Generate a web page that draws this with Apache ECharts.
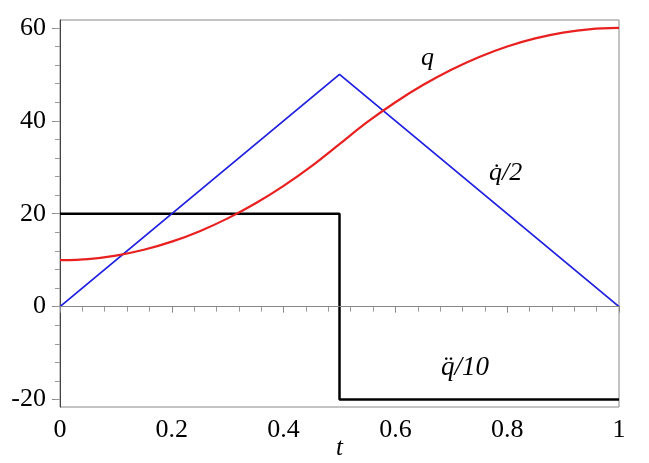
<!DOCTYPE html>
<html><head><meta charset="utf-8">
<script src="https://cdn.jsdelivr.net/npm/echarts@6/dist/echarts.min.js"></script>
<style>html,body{margin:0;padding:0;background:#fff}#c{width:649px;height:463px}</style>
</head><body><div id="c"></div>
<script>
// t grid for q
const tQ = [0,0.05,0.1,0.15,0.2,0.25,0.3,0.35,0.4,0.45,0.5,0.55,0.6,0.65,0.7,0.75,0.8,0.85,0.9,0.95,1];
const qVals = [10,10.25,11,12.25,14,16.25,19,22.25,26,30.25,35,39.75,44,47.75,51,53.75,56,57.75,59,59.75,60];
// q-dot / 2
const tQd = [0,0.5,1];
const qdVals = [0,50,0];
// q-double-dot / 10
const tQdd = [0,0.5,0.5,1];
const qddVals = [20,20,-20,-20];
const yTickLabels = [-20,0,20,40,60];
const yMinorTicks = [-20,-16,-12,-8,-4,0,4,8,12,16,20,24,28,32,36,40,44,48,52,56,60];
const xName = 't';

const zip = (a,b)=>a.map((v,i)=>[v,b[i]]);
const serif = '"Liberation Serif","DejaVu Serif",serif';
const YMIN=-21.6, YMAX=61.7;
const chart = echarts.init(document.getElementById('c'));
chart.setOption({
  animation:false,
  grid:{left:60,right:30,top:20,bottom:56,containLabel:false,outerBoundsMode:'none',show:true,borderColor:'#888',borderWidth:1},
  xAxis:{type:'value',min:0,max:1,interval:0.2,
    name:xName,nameLocation:'middle',nameGap:29,nameMoveOverlap:false,
    nameTextStyle:{fontFamily:serif,fontStyle:'italic',fontSize:25,color:'#000'},
    axisLine:{lineStyle:{color:'#444',width:1}},
    axisTick:{show:true,length:6,lineStyle:{color:'#888'}},
    minorTick:{show:true,splitNumber:5,length:5,lineStyle:{color:'#999'}},
    splitLine:{show:false},
    axisLabel:{fontFamily:serif,fontSize:26,fontWeight:500,color:'#000',margin:10,
      formatter:v=>String(Math.round(v*10)/10)}},
  yAxis:[{type:'value',min:YMIN,max:YMAX,
    axisLine:{show:true,lineStyle:{color:'#444',width:1}},
    axisTick:{show:true,length:8,customValues:yTickLabels,lineStyle:{color:'#888'}},
    splitLine:{show:false},
    axisLabel:{fontFamily:serif,fontSize:26,fontWeight:500,color:'#000',margin:14,customValues:yTickLabels}},
   {type:'value',min:YMIN,max:YMAX,position:'left',
    axisLine:{show:false},
    axisTick:{show:true,length:5,customValues:yMinorTicks,lineStyle:{color:'#999'}},
    splitLine:{show:false},
    axisLabel:{show:false}}],
  series:[
    {type:'line',data:zip(tQdd,qddVals),symbol:'none',lineStyle:{color:'#000',width:2.5},z:3,
     markLine:{silent:true,symbol:'none',label:{show:false},lineStyle:{color:'#888',width:1,type:'solid'},data:[{yAxis:0}]}},
    {type:'line',data:zip(tQd,qdVals),symbol:'none',lineStyle:{color:'#2020e0',width:1.8},z:4},
    {type:'line',data:zip(tQ,qVals),symbol:'none',smooth:0.3,lineStyle:{color:'#e82020',width:2.2},z:5}
  ],
  graphic:[
    {type:'text',left:421,top:45,style:{text:'q',font:'italic 26px '+serif,fill:'#000'}},
    {type:'text',left:489,top:160,style:{text:'q\u0307/2',font:'italic 26px '+serif,fill:'#000'}},
    {type:'text',left:441,top:354,style:{text:'q\u0308/10',font:'italic 27px '+serif,fill:'#000'}}
  ]
});
</script></body></html>
